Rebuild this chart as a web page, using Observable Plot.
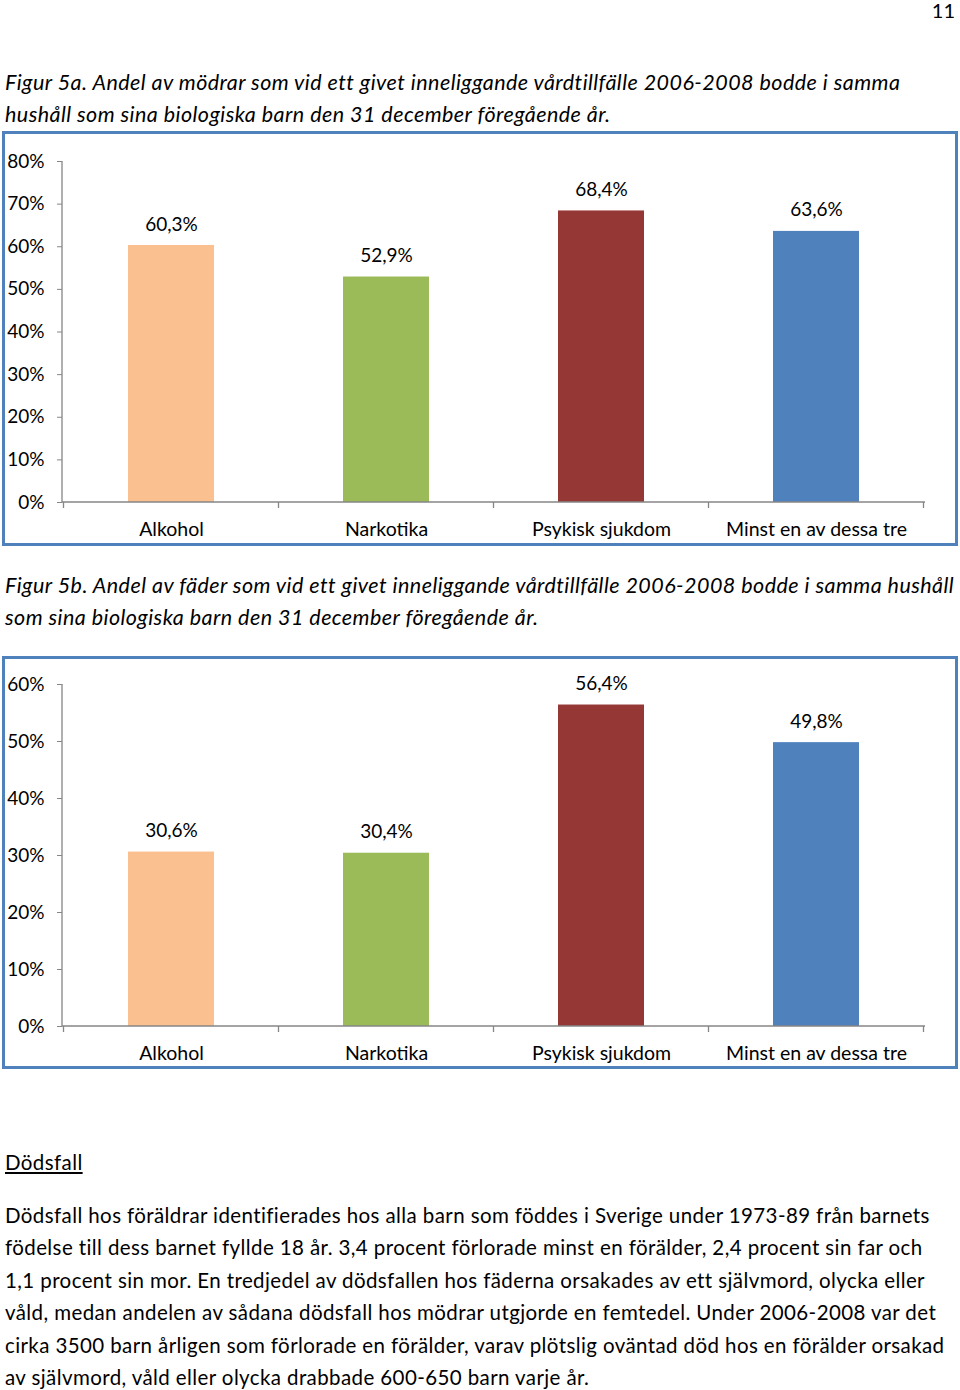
<!DOCTYPE html>
<html><head><meta charset="utf-8">
<script src="https://cdn.jsdelivr.net/npm/d3@7"></script>
<script src="https://cdn.jsdelivr.net/npm/@observablehq/plot@0.6"></script>
<style>
body{margin:0;background:#fff;font-family:Lato,"Open Sans",sans-serif;color:#000}
#page{position:relative;width:960px;height:1390px;overflow:hidden}
.abs{position:absolute;left:5px;white-space:nowrap}
.cap{font-style:italic;font-size:21.5px;letter-spacing:0.45px;line-height:32.4px}
.txt{font-size:20.5px;letter-spacing:0.4px;line-height:32.4px}
.box{position:absolute;left:2px;width:950px;border:3px solid #4F81BD;background:#fff}
.box svg{display:block}
</style></head>
<body><div id="page">
<div class="abs" style="left:auto;right:5px;top:0px;font-size:20px;line-height:20px">11</div>
<div class="abs cap" style="top:66px">Figur 5a. Andel av mödrar som vid ett givet inneliggande vårdtillfälle 2006-2008 bodde i samma<br>hushåll som sina biologiska barn den 31 december föregående år.</div>
<div class="box" id="c1" style="top:131px;height:409px"></div>
<div class="abs cap" style="top:569px">Figur 5b. Andel av fäder som vid ett givet inneliggande vårdtillfälle 2006-2008 bodde i samma hushåll<br>som sina biologiska barn den 31 december föregående år.</div>
<div class="box" id="c2" style="top:656px;height:407px"></div>
<div class="abs txt" style="top:1146px;text-decoration:underline">Dödsfall</div>
<div class="abs txt" style="top:1199px">Dödsfall hos föräldrar identifierades hos alla barn som föddes i Sverige under 1973-89 från barnets<br>födelse till dess barnet fyllde 18 år. 3,4 procent förlorade minst en förälder, 2,4 procent sin far och<br>1,1 procent sin mor. En tredjedel av dödsfallen hos fäderna orsakades av ett självmord, olycka eller<br>våld, medan andelen av sådana dödsfall hos mödrar utgjorde en femtedel. Under 2006-2008 var det<br>cirka 3500 barn årligen som förlorade en förälder, varav plötslig oväntad död hos en förälder orsakad<br>av självmord, våld eller olycka drabbade 600-650 barn varje år.</div>
</div>
<script>
const categories = ["Alkohol", "Narkotika", "Psykisk sjukdom", "Minst en av dessa tre"];
const colors = ["#FAC090", "#9BBB59", "#953735", "#4F81BD"];
const mothers = [0.603, 0.529, 0.684, 0.636];
const fathers = [0.306, 0.304, 0.564, 0.498];
const yTicksMothers = [0, 0.1, 0.2, 0.3, 0.4, 0.5, 0.6, 0.7, 0.8];
const yTicksFathers = [0, 0.1, 0.2, 0.3, 0.4, 0.5, 0.6];

const AXIS = "#868686";
const pct = d => Math.round(d * 100) + "%";
const lab = d => (d * 100).toFixed(1).replace(".", ",") + "%";

function frameLines(index, scales, values, dims) {
  const x = scales.x, y = scales.y;
  const g = d3.create("svg:g").attr("stroke", AXIS).attr("stroke-width", 1.3).attr("fill", "none");
  const [r0, r1] = x.range();
  const step = x.step();
  const y0 = y(0), yTop = y(y.domain()[1]);
  g.append("line").attr("x1", r0).attr("x2", r0).attr("y1", yTop).attr("y2", y0);
  g.append("line").attr("x1", r0).attr("x2", r1).attr("y1", y0).attr("y2", y0);
  const first = x(categories[0]) - (step - x.bandwidth()) / 2;
  for (let i = 0; i <= categories.length; i++) {
    const bx = first + i * step;
    g.append("line").attr("x1", bx).attr("x2", bx).attr("y1", y0).attr("y2", y0 + 6);
  }
  return g.node();
}

function chart(values, ticks, height, mt, mb) {
  const data = categories.map((c, i) => ({cat: c, v: values[i], col: colors[i]}));
  return Plot.plot({
    width: 950, height,
    marginLeft: 57, marginRight: 30, marginTop: mt, marginBottom: mb,
    style: {fontFamily: "Lato, 'Open Sans', sans-serif", fontSize: "19px", color: "#000", background: "#fff"},
    x: {domain: categories, paddingInner: 0.6, paddingOuter: 0.3, label: null},
    y: {domain: [0, ticks[ticks.length - 1]], label: null},
    marks: [
      Plot.barY(data, {x: "cat", y: "v", fill: "col"}),
      Plot.axisY({ticks, tickFormat: pct, tickSize: 5, tickPadding: 13, stroke: AXIS, fill: "#000", fontSize: 19, label: null}),
      Plot.axisX({tickSize: 0, tickPadding: 20, fill: "#000", fontSize: 19.5, label: null}),
      frameLines,
      Plot.text(data, {x: "cat", y: "v", text: d => lab(d.v), dy: -21, fill: "#000", fontSize: 19})
    ]
  });
}

document.getElementById("c1").appendChild(chart(mothers, yTicksMothers, 409, 27, 41));
document.getElementById("c2").appendChild(chart(fathers, yTicksFathers, 407, 25, 40));
</script>
</body></html>
